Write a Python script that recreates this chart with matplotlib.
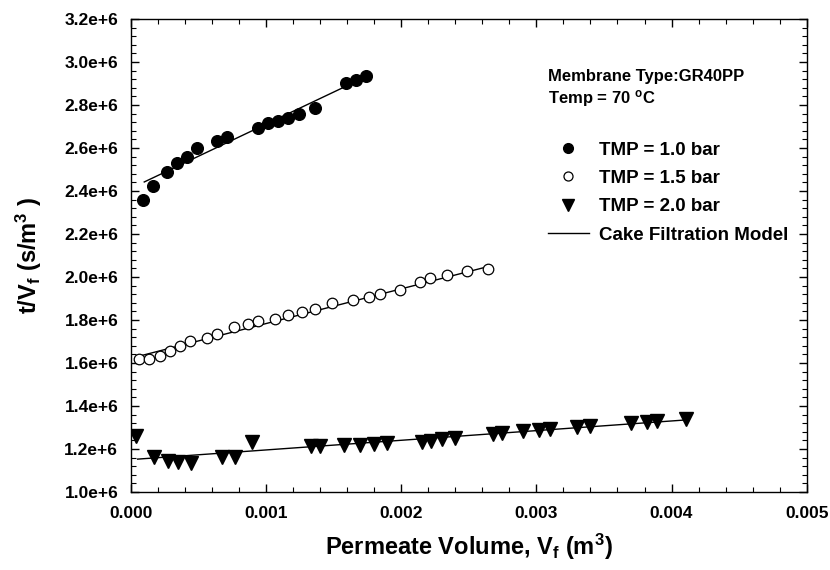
import matplotlib
matplotlib.use("Agg")
import matplotlib.pyplot as plt
from matplotlib.ticker import MultipleLocator, AutoMinorLocator, FuncFormatter
from matplotlib.lines import Line2D

plt.rcParams['font.family'] = ['Liberation Sans', 'DejaVu Sans']
plt.rcParams['font.weight'] = 'bold'
plt.rcParams['axes.labelweight'] = 'bold'
plt.rcParams['mathtext.fontset'] = 'custom'
plt.rcParams['mathtext.rm'] = 'Liberation Sans:bold'
plt.rcParams['mathtext.it'] = 'Liberation Sans:bold'
plt.rcParams['mathtext.bf'] = 'Liberation Sans:bold'
plt.rcParams['mathtext.default'] = 'rm'

# TMP = 1.0 bar
v1 = [0.000089, 0.000163, 0.000266, 0.000340, 0.000414, 0.000490, 0.000641,
      0.000715, 0.000942, 0.001016, 0.001089, 0.001166, 0.001243, 0.001366,
      0.001592, 0.001666, 0.001743]
t1 = [2.357e6, 2.422e6, 2.488e6, 2.529e6, 2.557e6, 2.601e6, 2.634e6,
      2.653e6, 2.692e6, 2.716e6, 2.726e6, 2.741e6, 2.758e6, 2.785e6,
      2.901e6, 2.916e6, 2.935e6]

# TMP = 1.5 bar
v2 = [0.000064, 0.000138, 0.000214, 0.000288, 0.000365, 0.000439, 0.000564,
      0.000641, 0.000764, 0.000865, 0.000942, 0.001065, 0.001166, 0.001265,
      0.001366, 0.001491, 0.001642, 0.001765, 0.001842, 0.001992, 0.002142,
      0.002216, 0.002342, 0.002490, 0.002640]
t2 = [1.620e6, 1.620e6, 1.633e6, 1.654e6, 1.679e6, 1.702e6, 1.718e6,
      1.735e6, 1.766e6, 1.780e6, 1.797e6, 1.806e6, 1.822e6, 1.836e6,
      1.851e6, 1.879e6, 1.892e6, 1.907e6, 1.920e6, 1.938e6, 1.975e6,
      1.997e6, 2.011e6, 2.027e6, 2.036e6]

# TMP = 2.0 bar
v3 = [0.000042, 0.000171, 0.000273, 0.000352, 0.000448, 0.000677, 0.000770,
      0.000896, 0.001332, 0.001399, 0.001578, 0.001695, 0.001797, 0.001899,
      0.002151, 0.002221, 0.002303, 0.002396, 0.002677, 0.002744, 0.002899,
      0.003022, 0.003098, 0.003303, 0.003399, 0.003697, 0.003818, 0.003896,
      0.004104]
t3 = [1.260e6, 1.164e6, 1.144e6, 1.141e6, 1.133e6, 1.164e6, 1.164e6,
      1.231e6, 1.215e6, 1.215e6, 1.217e6, 1.219e6, 1.225e6, 1.227e6,
      1.234e6, 1.239e6, 1.247e6, 1.250e6, 1.271e6, 1.276e6, 1.284e6,
      1.290e6, 1.295e6, 1.302e6, 1.308e6, 1.321e6, 1.326e6, 1.329e6,
      1.340e6]

# cake filtration model lines (start / end)
fit1_v = [0.000100, 0.001782]
fit1_t = [2.442e6, 2.944e6]
fit2_v = [0.000044, 0.002658]
fit2_t = [1.629e6, 2.051e6]
fit3_v = [0.000051, 0.004100]
fit3_t = [1.153e6, 1.335e6]

labels = ["TMP = 1.0 bar", "TMP = 1.5 bar", "TMP = 2.0 bar", "Cake Filtration Model"]

fig = plt.figure(figsize=(8.3, 5.7), dpi=100)
ax = fig.add_axes([0.1575, 0.1368, 0.8145, 0.8299])

for fv, ft in [(fit1_v, fit1_t), (fit2_v, fit2_t), (fit3_v, fit3_t)]:
    ax.plot(fv, ft, color='black', lw=1.0, zorder=2)

ax.plot(v1, t1, 'o', color='black', ms=8.4, zorder=3)
ax.plot(v2, t2, 'o', mfc='white', mec='black', mew=0.9, ms=7.6, zorder=3)
ax.plot(v3, t3, 'v', color='black', ms=9.5, zorder=3)

ax.set_xlim(0, 0.005)
ax.set_ylim(1.0e6, 3.2e6)
ax.xaxis.set_major_locator(MultipleLocator(0.001))
ax.xaxis.set_minor_locator(AutoMinorLocator(5))
ax.yaxis.set_major_locator(MultipleLocator(0.2e6))
ax.yaxis.set_minor_locator(AutoMinorLocator(5))
ax.xaxis.set_major_formatter(FuncFormatter(lambda x, p: f"{x:.3f}"))
ax.yaxis.set_major_formatter(FuncFormatter(lambda y, p: f"{y / 1e6:.1f}e+6"))
ax.tick_params(which='both', direction='in', top=True, right=True, labelsize=12.5)
ax.tick_params(which='major', length=6, width=1.0)
ax.tick_params(which='minor', length=3.5, width=0.8)
ax.tick_params(axis='x', pad=10)
ax.tick_params(axis='y', pad=9)
for s in ax.spines.values():
    s.set_linewidth(1.0)

ax.set_xlabel(r"Permeate Volume, V$_f$ (m$^3$)", fontsize=17, labelpad=8,
              fontweight='bold')
ax.set_ylabel(r"t/V$_f$ (s/m$^3$ )", fontsize=17, labelpad=15,
              fontweight='bold')

ax.text(0.617, 0.878, "Membrane Type:GR40PP", transform=ax.transAxes,
        fontsize=12, va='center', fontweight='bold')
ax.text(0.617, 0.831, r"Temp = 70 $^{o}$C", transform=ax.transAxes,
        fontsize=12, va='center', fontweight='bold')

handles = [
    Line2D([], [], ls='none', marker='o', color='black', ms=7),
    Line2D([], [], ls='none', marker='o', mfc='white', mec='black', mew=0.9, ms=6.5),
    Line2D([], [], ls='none', marker='v', color='black', ms=8),
    Line2D([], [], color='black', lw=1.0),
]
ax.legend(handles, labels, loc='upper left', bbox_to_anchor=(0.617, 0.741),
          frameon=False, prop={'size': 13.5, 'weight': 'bold'},
          handlelength=2.2, handletextpad=0.55,
          labelspacing=0.6, borderaxespad=0, borderpad=0)

fig.savefig("out.png", dpi=100)
